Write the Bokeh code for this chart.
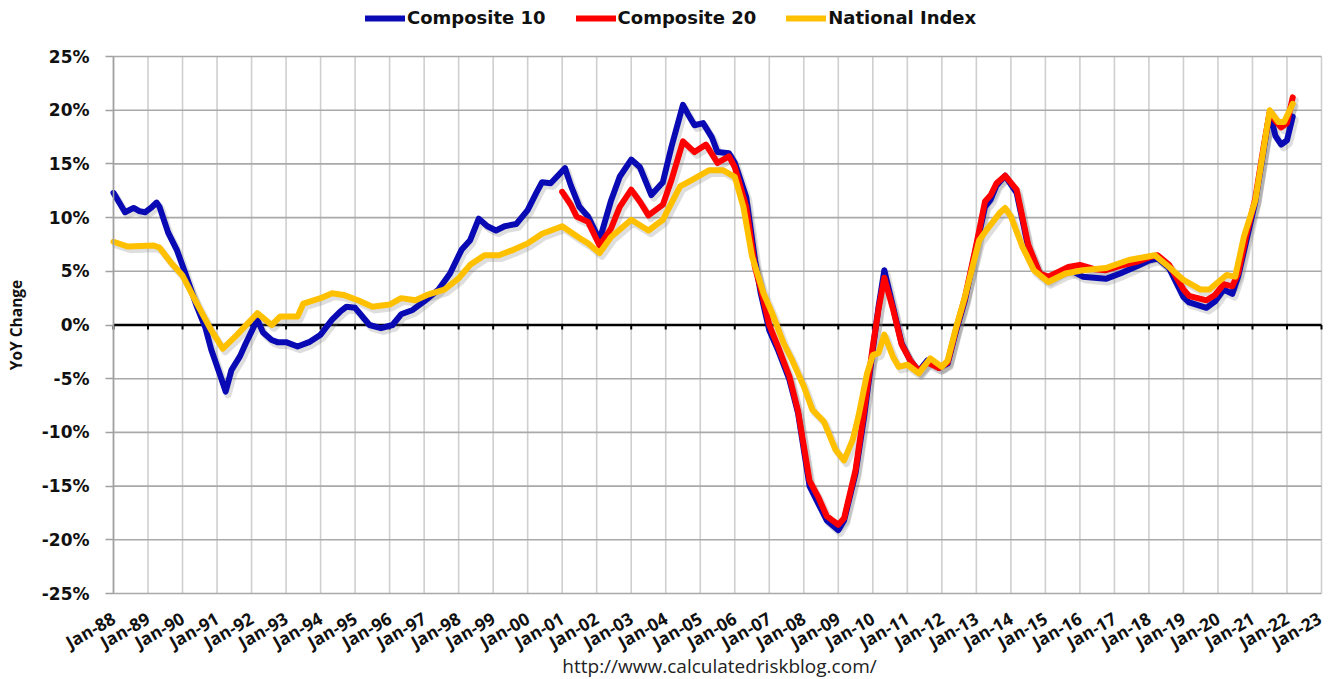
import pandas as pd
from bokeh.plotting import figure
from bokeh.models import (Legend, LegendItem, FixedTicker, Range1d, ColumnDataSource)
from bokeh.core.properties import value
from bokeh.transform import dodge
from bokeh.embed import file_html
from bokeh.resources import INLINE

# ---------------- data (YoY % change) ----------------
c10_dates = ["1988-01","1988-03","1988-05","1988-08","1988-10","1988-12","1989-02","1989-04",
             "1989-05","1989-08","1989-11","1990-02","1990-06","1990-09","1990-11","1991-02",
             "1991-04","1991-06","1991-09","1991-11","1992-03","1992-05","1992-08","1992-10",
             "1993-01","1993-05","1993-09","1994-01","1994-05","1994-08","1994-10","1995-01",
             "1995-06","1995-10","1996-02","1996-05","1996-09","1997-01","1997-06","1997-10",
             "1998-02","1998-05","1998-08","1998-11","1999-02","1999-05","1999-09","2000-01",
             "2000-04","2000-06","2000-09","2001-02","2001-04","2001-07","2001-10","2002-02",
             "2002-06","2002-09","2003-01","2003-04","2003-08","2003-12","2004-03","2004-07",
             "2004-09","2004-11","2005-02","2005-05","2005-07","2005-11","2006-01","2006-05",
             "2006-08","2006-10","2007-01","2007-04","2007-08","2007-11","2008-03","2008-06",
             "2008-09","2009-01","2009-03","2009-07","2009-10","2010-01","2010-03","2010-05",
             "2010-08","2010-11","2011-02","2011-05","2011-08","2011-12","2012-03","2012-06",
             "2012-09","2013-01","2013-04","2013-06","2013-08","2013-11","2014-03","2014-07",
             "2014-11","2015-02","2015-06","2015-09","2016-02","2016-06","2016-10","2017-03",
             "2017-09","2018-01","2018-04","2018-08","2019-01","2019-03","2019-09","2019-12",
             "2020-03","2020-06","2020-08","2020-11","2021-02","2021-05","2021-07","2021-09",
             "2021-11","2022-01","2022-03"]
c10_vals = [12.3, 11.4, 10.5, 10.9, 10.6, 10.5, 10.9, 11.4,
            11.0, 8.6, 7.0, 4.8, 1.7, -0.3, -2.3, -4.6,
            -6.2, -4.2, -2.9, -1.7, 0.5, -0.7, -1.4, -1.6,
            -1.6, -2.0, -1.6, -0.9, 0.5, 1.3, 1.7, 1.6,
            0.0, -0.3, 0.0, 1.0, 1.4, 2.2, 3.3, 4.8,
            7.0, 7.9, 9.9, 9.2, 8.8, 9.2, 9.4, 10.7,
            12.3, 13.3, 13.2, 14.6, 13.0, 11.0, 10.1, 7.9,
            11.6, 13.8, 15.4, 14.7, 12.1, 13.3, 16.6, 20.5,
            19.5, 18.6, 18.8, 17.5, 16.1, 16.0, 15.1, 11.9,
            6.1, 3.0, -0.5, -2.3, -5.1, -8.2, -15.0, -16.6,
            -18.2, -19.1, -18.2, -13.8, -8.5, -2.3, 1.7, 5.1,
            1.7, -1.7, -3.3, -4.3, -3.3, -4.0, -3.6, -0.5,
            2.3, 7.3, 11.0, 11.7, 13.0, 13.9, 12.3, 7.3,
            4.8, 4.2, 4.9, 5.2, 4.5, 4.4, 4.3, 4.8,
            5.5, 6.0, 6.2, 5.3, 2.6, 2.1, 1.6, 2.2,
            3.3, 2.9, 4.5, 8.0, 11.5, 16.5, 19.8, 17.6,
            16.8, 17.2, 19.4]

c20_dates = ["2001-01","2001-04","2001-06","2001-10","2002-02","2002-06","2002-09","2003-01",
             "2003-04","2003-07","2003-12","2004-03","2004-07","2004-11","2005-03","2005-07",
             "2005-11","2006-01","2006-05","2006-08","2006-10","2007-01","2007-04","2007-08",
             "2007-11","2008-03","2008-06","2008-09","2009-01","2009-03","2009-07","2009-10",
             "2010-01","2010-03","2010-05","2010-08","2010-11","2011-02","2011-05","2011-08",
             "2011-12","2012-03","2012-06","2012-09","2013-01","2013-04","2013-06","2013-08",
             "2013-11","2014-03","2014-07","2014-11","2015-02","2015-06","2015-09","2016-01",
             "2016-06","2016-10","2017-03","2017-09","2018-01","2018-04","2018-08","2019-01",
             "2019-03","2019-09","2019-12","2020-03","2020-06","2020-08","2020-11","2021-02",
             "2021-05","2021-07","2021-09","2021-11","2022-01","2022-03"]
c20_vals = [12.4, 11.2, 10.1, 9.6, 7.4, 9.0, 11.0, 12.6,
            11.5, 10.2, 11.2, 13.5, 17.1, 16.1, 16.8, 15.1,
            15.7, 14.7, 11.0, 5.4, 3.4, 0.0, -2.0, -4.8,
            -8.0, -14.5, -16.0, -17.8, -18.6, -18.0, -13.5, -8.0,
            -2.0, 1.5, 4.4, 1.5, -1.8, -3.3, -4.3, -3.5,
            -4.0, -3.5, -0.3, 2.5, 7.5, 11.5, 12.1, 13.2,
            13.9, 12.6, 7.5, 4.8, 4.5, 5.0, 5.4, 5.6,
            5.2, 5.1, 5.5, 5.9, 6.3, 6.5, 5.6, 3.3,
            2.7, 2.3, 2.8, 3.8, 3.6, 4.8, 8.5, 11.8,
            16.8, 19.8, 19.0, 18.4, 18.8, 21.2]

nat_dates = ["1988-01","1988-06","1989-03","1989-05","1989-09","1990-01","1990-06","1990-11",
             "1991-03","1991-08","1992-03","1992-08","1992-11","1993-05","1993-07","1994-01",
             "1994-05","1994-09","1995-02","1995-07","1996-01","1996-05","1996-10","1997-02",
             "1997-08","1998-01","1998-05","1998-10","1999-03","1999-08","2000-01","2000-06",
             "2001-01","2001-07","2001-10","2002-02","2002-06","2003-01","2003-07","2003-12",
             "2004-06","2004-10","2005-04","2005-09","2006-01","2006-04","2006-07","2006-11",
             "2007-02","2007-06","2007-09","2008-01","2008-04","2008-08","2008-12","2009-03",
             "2009-06","2009-08","2009-11","2010-01","2010-03","2010-05","2010-08","2010-10",
             "2011-01","2011-05","2011-09","2012-01","2012-03","2012-06","2012-09","2013-02",
             "2013-05","2013-09","2013-11","2014-01","2014-05","2014-09","2015-02","2015-08",
             "2016-02","2016-10","2017-06","2018-03","2018-08","2019-01","2019-07","2019-10",
             "2020-04","2020-07","2020-10","2021-02","2021-07","2021-10","2021-12","2022-03"]
nat_vals = [7.75, 7.3, 7.4, 7.2, 5.8, 4.6, 2.0, -0.5,
            -2.2, -0.9, 1.1, 0.0, 0.8, 0.8, 2.0, 2.5,
            2.95, 2.8, 2.3, 1.7, 1.9, 2.5, 2.3, 2.8,
            3.3, 4.35, 5.6, 6.5, 6.5, 7.0, 7.6, 8.5,
            9.2, 8.1, 7.6, 6.7, 8.2, 9.8, 8.8, 9.8,
            12.9, 13.5, 14.4, 14.4, 13.8, 11.0, 6.4, 2.95,
            1.1, -1.7, -3.3, -5.7, -7.9, -9.0, -11.6, -12.6,
            -10.7, -8.5, -4.5, -2.8, -2.6, -0.9, -2.95, -3.9,
            -3.7, -4.5, -3.1, -3.9, -3.3, -0.2, 2.6, 7.9,
            9.0, 10.4, 10.9, 10.1, 7.3, 5.1, 4.0, 4.8,
            5.1, 5.3, 6.05, 6.5, 5.4, 4.2, 3.3, 3.3,
            4.65, 4.5, 8.2, 11.6, 20.0, 18.9, 18.9, 20.6]

years = list(range(1988, 2024))
x_labels = ["Jan-%02d" % (y % 100) for y in years]
y_ticks = [-25, -20, -15, -10, -5, 0, 5, 10, 15, 20, 25]
y_labels = ["%d%%" % v for v in y_ticks]

series_names = ["Composite 10", "Composite 20", "National Index"]
series_colors = ["#0a0ab4", "#ff0000", "#ffc000"]
footer_text = "http://www.calculatedriskblog.com/"


def to_year(dates):
    d = pd.to_datetime(pd.Series(dates), format="%Y-%m")
    return list(d.dt.year + (d.dt.month - 1) / 12.0)


sources = [ColumnDataSource(dict(x=to_year(c10_dates), y=c10_vals)),
           ColumnDataSource(dict(x=to_year(c20_dates), y=c20_vals)),
           ColumnDataSource(dict(x=to_year(nat_dates), y=nat_vals))]

x_lo, x_hi = years[0], years[-1]
y_lo, y_hi = y_ticks[0], y_ticks[-1]

# layout: plot area 1208 x 537 px; the frame covers the whole canvas and the
# axes are pinned to the plot-area edges (room for legend, labels, source line)
W, H = 1325, 679
pad_l, pad_r, pad_t, pad_b = 113, 4, 56, 86
px_x = (W - pad_l - pad_r) / float(x_hi - x_lo)
px_y = (H - pad_t - pad_b) / float(y_hi - y_lo)
x_range = Range1d(x_lo - pad_l / px_x, x_hi + pad_r / px_x)
y_range = Range1d(y_lo - pad_b / px_y, y_hi + pad_t / px_y)

p = figure(frame_width=W, frame_height=H, output_backend="svg", toolbar_location=None,
           x_range=x_range, y_range=y_range,
           min_border_left=0, min_border_right=0, min_border_top=0, min_border_bottom=0)
p.outline_line_color = None
p.background_fill_color = "white"
p.border_fill_color = "white"
p.xgrid.grid_line_color = None
p.ygrid.grid_line_color = None

# grid lines limited to the plot area
p.segment(x0=years, y0=[y_lo] * len(years), x1=years, y1=[y_hi] * len(years),
          line_color="#cfcfcf", line_width=1.6)
p.segment(x0=[x_lo] * len(y_ticks), y0=y_ticks, x1=[x_hi] * len(y_ticks), y1=y_ticks,
          line_color="#a9a9a9", line_width=1.6)

# x axis pinned at the -25% line
p.xaxis.fixed_location = y_lo
p.xaxis.ticker = FixedTicker(ticks=years)
p.xaxis.major_label_overrides = {y: l for y, l in zip(years, x_labels)}
p.xaxis.major_label_orientation = 0.52
p.xaxis.axis_line_color = None
p.xaxis.major_tick_line_color = None
p.xaxis.major_tick_out = 0
p.xaxis.major_tick_in = 0
p.xaxis.minor_tick_line_color = None
p.xaxis.major_label_standoff = 23
p.xaxis.major_label_text_font = "Open Sans"
p.xaxis.major_label_text_font_style = "bold"
p.xaxis.major_label_text_font_size = "17.5px"
p.xaxis.major_label_text_color = "#111111"

# y axis pinned at Jan-88
p.yaxis.fixed_location = x_lo
p.yaxis.bounds = (y_lo, y_hi)
p.yaxis.ticker = FixedTicker(ticks=y_ticks)
p.yaxis.major_label_overrides = {v: l for v, l in zip(y_ticks, y_labels)}
p.yaxis.axis_line_color = "#a0a0a0"
p.yaxis.axis_line_width = 1.6
p.yaxis.major_tick_line_color = "#a0a0a0"
p.yaxis.major_tick_line_width = 1.6
p.yaxis.major_tick_out = 8
p.yaxis.major_tick_in = 0
p.yaxis.minor_tick_line_color = None
p.yaxis.major_label_standoff = 16
p.yaxis.major_label_text_font = "DejaVu Sans"
p.yaxis.major_label_text_font_style = "bold"
p.yaxis.major_label_text_font_size = "17px"
p.yaxis.major_label_text_color = "#111111"
p.yaxis.axis_label = "YoY Change"
p.yaxis.axis_label_text_font = "Open Sans"
p.yaxis.axis_label_text_font_style = "bold"
p.yaxis.axis_label_text_font_size = "15.5px"
p.yaxis.axis_label_text_color = "#111111"
p.yaxis.axis_label_standoff = 12

# source line
p.text(x=[(x_lo + x_hi) / 2.0], y=[y_lo], text=[footer_text], x_offset=2, y_offset=72,
       text_align="center", text_baseline="middle", text_font=value("Open Sans"),
       text_font_style="normal", text_font_size="19px", text_color="#222222")

# zero line with year ticks
p.segment(x0=years, y0=[0] * len(years), x1=years, y1=[-4.5 / px_y] * len(years),
          line_color="black", line_width=2)
p.segment(x0=[x_lo], y0=[0], x1=[x_hi], y1=[0], line_color="black", line_width=2.5)

# shadows
for src in sources:
    p.line(x=dodge("x", 2.4 / px_x, range=p.x_range), y=dodge("y", -3.2 / px_y, range=p.y_range),
           source=src, line_color="#7a7a7a", line_alpha=0.25, line_width=7,
           line_join="round", line_cap="round")

renderers = []
for src, c in zip(sources, series_colors):
    r = p.line(x="x", y="y", source=src, line_color=c, line_width=6,
               line_join="round", line_cap="round")
    renderers.append(r)

legend = Legend(items=[LegendItem(label=n, renderers=[r])
                       for n, r in zip(series_names, renderers)],
                orientation="horizontal", location=(365, 651),
                glyph_width=40, glyph_height=20, label_standoff=2, spacing=30,
                padding=0, margin=0, border_line_color=None,
                background_fill_alpha=0,
                label_text_font="DejaVu Sans", label_text_font_style="bold",
                label_text_font_size="18px", label_text_color="#111111")
p.add_layout(legend, "center")

open("out.html", "w").write(file_html(p, INLINE))
